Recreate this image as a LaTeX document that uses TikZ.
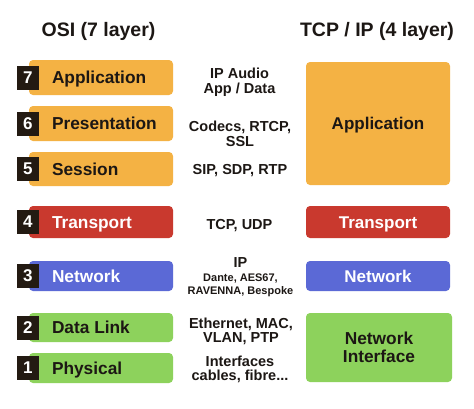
\documentclass[tikz,border=0pt]{standalone}
\usepackage{fontspec}
\setmainfont{Liberation Sans}

\definecolor{layerorange}{HTML}{F4B244}
\definecolor{layerred}{HTML}{C9392E}
\definecolor{layerblue}{HTML}{5B69D6}
\definecolor{layergreen}{HTML}{8DD25C}
\definecolor{numdark}{HTML}{231A12}
\definecolor{inkdark}{HTML}{1C1714}

\tikzset{
    title/.style={font=\fontsize{19.5}{20}\selectfont\bfseries, text=inkdark, inner sep=0pt},
    layerbox/.style={rounded corners=4pt, minimum width=144pt, inner sep=0pt,
        font=\fontsize{17}{18}\selectfont\bfseries, text=inkdark},
    numbox/.style={fill=numdark, text=white, minimum width=22pt, minimum height=24pt,
        inner sep=0pt, font=\fontsize{17}{17}\selectfont\bfseries},
    layername/.style={anchor=west, inner sep=0pt, text height=12pt, text depth=0pt,
        font=\fontsize{17.3}{17}\selectfont\bfseries, text=inkdark},
    proto/.style={align=center, inner sep=0pt, text depth=0pt,
        font=\fontsize{14.5}{14.5}\selectfont\bfseries, text=inkdark},
    protosmall/.style={align=center, inner sep=0pt, text depth=0pt,
        font=\fontsize{11}{13}\selectfont\bfseries, text=inkdark},
}

\begin{document}
\begin{tikzpicture}[x=1pt, y=-1pt]
    \fill[white] (0,0) rectangle (474,408);
    \useasboundingbox (0,0) rectangle (474,408);

    \node[title] (osi) at (98.5, 31) {OSI (7 layer)};
    \node[title] (tcpip) at (377, 31) {TCP / IP (4 layer)};

    % OSI column
    \node[layerbox, fill=layerorange, minimum height=35pt] (l7) at (101, 77.5) {};
    \node[numbox] (n7) at ([xshift=-1pt]l7.west) {7};
    \node[layername] (t7) at ([xshift=23pt]l7.west) {Application};

    \node[layerbox, fill=layerorange, minimum height=35pt] (l6) at (101, 123.5) {};
    \node[numbox] (n6) at ([xshift=-1pt]l6.west) {6};
    \node[layername] (t6) at ([xshift=23pt]l6.west) {Presentation};

    \node[layerbox, fill=layerorange, minimum height=34pt] (l5) at (101, 169) {};
    \node[numbox] (n5) at ([xshift=-1pt]l5.west) {5};
    \node[layername] (t5) at ([xshift=23pt]l5.west) {Session};

    \node[layerbox, fill=layerred, minimum height=32pt] (l4) at (101, 222) {};
    \node[numbox] (n4) at ([xshift=-1pt]l4.west) {4};
    \node[layername, text=white] (t4) at ([xshift=23pt]l4.west) {Transport};

    \node[layerbox, fill=layerblue, minimum height=30pt] (l3) at (101, 276) {};
    \node[numbox] (n3) at ([xshift=-1pt]l3.west) {3};
    \node[layername, text=white] (t3) at ([xshift=23pt]l3.west) {Network};

    \node[layerbox, fill=layergreen, minimum height=29pt] (l2) at (101, 327.5) {};
    \node[numbox] (n2) at ([xshift=-1pt]l2.west) {2};
    \node[layername] (t2) at ([xshift=23pt]l2.west) {Data Link};

    \node[layerbox, fill=layergreen, minimum height=30pt] (l1) at (101, 368) {};
    \node[numbox] (n1) at ([xshift=-1pt]l1.west) {1};
    \node[layername] (t1) at ([xshift=23pt]l1.west) {Physical};

    % protocols in between
    \node[proto] (p7) at (239.5, 80.5) {IP Audio\\App / Data};
    \node[proto] (p6) at (240, 133.5) {Codecs, RTCP,\\SSL};
    \node[proto] (p5) at (240, 169) {SIP, SDP, RTP};
    \node[proto] (p4) at (239.5, 224) {TCP, UDP};
    \node[proto] (p3) at (240.5, 263) {IP};
    \node[protosmall] (p3b) at (240.5, 284.5) {Dante, AES67,\\RAVENNA, Bespoke};
    \node[proto] (p2) at (241, 330) {Ethernet, MAC,\\VLAN, PTP};
    \node[proto] (p1) at (240, 368) {Interfaces\\cables, fibre...};

    % TCP/IP column
    \node[layerbox, fill=layerorange, minimum height=123pt, text height=12pt, text depth=0pt] (r4) at (378, 123.5) {Application};
    \node[layerbox, fill=layerred, minimum height=32pt, text=white, text height=12pt, text depth=0pt] (r3) at (378, 222) {Transport};
    \node[layerbox, fill=layerblue, minimum height=30pt, text=white, text height=12pt, text depth=0pt] (r2) at (378, 276) {Network};
    \node[layerbox, fill=layergreen, minimum width=146pt, minimum height=69pt, align=center, text depth=0pt,
        font=\fontsize{17.3}{18}\selectfont\bfseries] (r1) at (379, 347.5) {Network\\Interface};
\end{tikzpicture}
\end{document}
